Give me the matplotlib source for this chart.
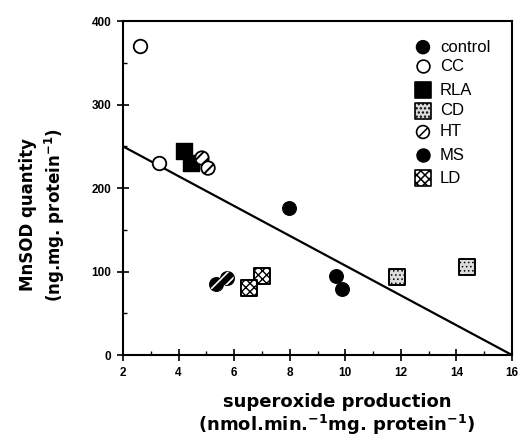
import matplotlib
matplotlib.use("Agg")
import matplotlib.pyplot as plt
import numpy as np
from matplotlib.ticker import MultipleLocator

plt.rcParams['font.family'] = ['Liberation Sans', 'DejaVu Sans']

# data (superoxide production, MnSOD quantity)
control_x = [5.35, 5.74]
control_y = [85, 92]
cc_x = [2.6, 3.3]
cc_y = [370, 230]
rla_x = [4.2, 4.45]
rla_y = [244, 230]
cd_x = [11.86, 14.37]
cd_y = [94, 105]
ht_x = [4.84, 5.06]
ht_y = [236, 224]
ms_x = [7.97, 9.66, 9.88]
ms_y = [176, 95, 79]
ld_x = [7.0, 6.53]
ld_y = [95, 80]

fit_x = [2, 16]
fit_y = [250, 0]

x_ticks = [2, 4, 6, 8, 10, 12, 14, 16]
y_ticks = [0, 100, 200, 300, 400]

fig = plt.figure(figsize=(5.22, 4.40), dpi=100)
ax = fig.add_axes([0.2356, 0.193, 0.981 - 0.2356, 0.952 - 0.193])

ax.plot(fit_x, fit_y, color='black', lw=1.6, zorder=1)

ms_c = 95   # circle size (pt^2)
ms_s = 130  # square size

# control: black with white stripes
ax.scatter(control_x, control_y, s=ms_c, marker='o', facecolor='black',
           edgecolor='black', linewidths=1.0, zorder=3)
with plt.rc_context({'hatch.color': 'white', 'hatch.linewidth': 1.2}):
    ax.scatter(control_x, control_y, s=ms_c, marker='o', facecolor='none',
               edgecolor='white', linewidths=0, hatch='///', zorder=4)
ax.scatter(cc_x, cc_y, s=ms_c, marker='o', facecolor='white', edgecolor='black',
           linewidths=1.3, zorder=3)
ax.scatter(rla_x, rla_y, s=ms_s, marker='s', facecolor='black', edgecolor='black',
           linewidths=1.0, zorder=3)
with plt.rc_context({'hatch.color': '#999999', 'hatch.linewidth': 0.6}):
    ax.scatter(cd_x, cd_y, s=ms_s, marker='s', facecolor='#dcdcdc', edgecolor='black',
               linewidths=1.4, hatch='....', zorder=3)
with plt.rc_context({'hatch.color': 'black', 'hatch.linewidth': 1.4}):
    ax.scatter(ht_x, ht_y, s=ms_c, marker='o', facecolor='white', edgecolor='black',
               linewidths=1.3, hatch='///', zorder=3)
ax.scatter(ms_x, ms_y, s=ms_c, marker='o', facecolor='black', edgecolor='black',
           linewidths=1.0, zorder=3)
with plt.rc_context({'hatch.color': 'black', 'hatch.linewidth': 1.0}):
    ax.scatter(ld_x, ld_y, s=ms_s, marker='s', facecolor='white', edgecolor='black',
               linewidths=1.4, hatch='xxxx', zorder=3)

# legend (manual, frameless)
labels = ['control', 'CC', 'RLA', 'CD', 'HT', 'MS', 'LD']
styles = [
    dict(marker='o', facecolor='black', hatch='///', hcolor='white'),
    dict(marker='o', facecolor='white', hatch=None, hcolor='black'),
    dict(marker='s', facecolor='black', hatch=None, hcolor='black'),
    dict(marker='s', facecolor='#dcdcdc', hatch='....', hcolor='#999999'),
    dict(marker='o', facecolor='white', hatch='///', hcolor='black'),
    dict(marker='o', facecolor='black', hatch=None, hcolor='black'),
    dict(marker='s', facecolor='white', hatch='xxxx', hcolor='black'),
]
leg_y = [0.922, 0.865, 0.793, 0.731, 0.668, 0.599, 0.530]
for lab, st, yy in zip(labels, styles, leg_y):
    with plt.rc_context({'hatch.color': st['hcolor'], 'hatch.linewidth': 1.1}):
        ax.scatter([0.771], [yy], transform=ax.transAxes,
                   s=85 if st['marker'] == 'o' else 140,
                   marker=st['marker'], facecolor=st['facecolor'], edgecolor='black',
                   linewidths=1.2, hatch=st['hatch'], zorder=5, clip_on=False)
    ax.text(0.815, yy, lab, transform=ax.transAxes, fontsize=12, va='center', ha='left')

ax.set_xlim(2, 16)
ax.set_ylim(0, 400)
ax.set_xticks(x_ticks)
ax.set_yticks(y_ticks)
ax.xaxis.set_minor_locator(MultipleLocator(1))
ax.yaxis.set_minor_locator(MultipleLocator(50))
ax.tick_params(which='major', direction='inout', length=9, width=1.2, labelsize=8.5, pad=4)
ax.tick_params(which='minor', direction='in', length=3, width=1.0)
for lab in ax.get_xticklabels() + ax.get_yticklabels():
    lab.set_fontweight('bold')
for sp in ax.spines.values():
    sp.set_linewidth(1.5)

ax.set_xlabel('superoxide production\n(nmol.min.$^{\\mathbf{-1}}$mg. protein$^{\\mathbf{-1}}$)',
              fontsize=13, fontweight='bold', linespacing=1.1, family='DejaVu Sans')
ax.xaxis.set_label_coords(0.55, -0.115)
ax.set_ylabel('MnSOD quantity\n(ng.mg. protein$^{\\mathbf{-1}}$)',
              fontsize=12, fontweight='bold', linespacing=1.3, family='DejaVu Sans')
ax.yaxis.set_label_coords(-0.145, 0.42)

fig.savefig('out.png', dpi=100)
